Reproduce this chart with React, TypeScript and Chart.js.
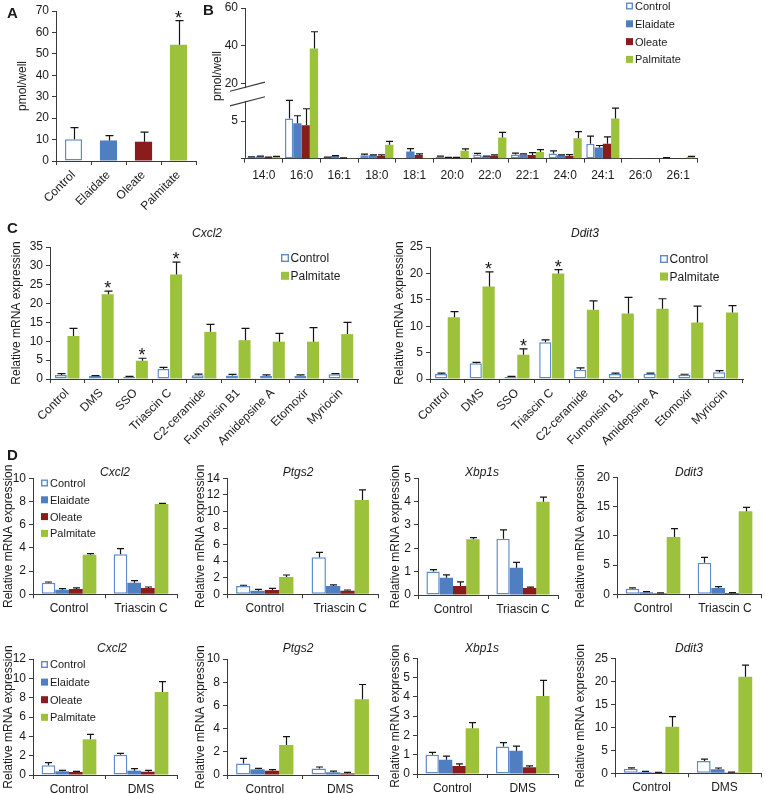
import React, { useEffect, useRef } from 'react';
import { Chart, registerables, LinearScale } from 'chart.js';

Chart.register(...registerables);

const FONT = '"Liberation Sans", Arial, Helvetica, sans-serif';
Chart.defaults.font.family = FONT;
Chart.defaults.font.size = 12;
Chart.defaults.color = '#1e1e1e';

const AXIS_COLOR = '#3a3a3a';
const TEXT_COLOR = '#1a1a1a';

// ---------------- data ----------------
const SERIES = ['Control', 'Elaidate', 'Oleate', 'Palmitate'];

// Panel A (pmol/well)
const A_CATEGORIES = ['Control', 'Elaidate', 'Oleate', 'Palmitate'];
const A_VALUES = [10.1, 9.6, 9.0, 54.2];
const A_ERRORS = [5.5, 2.2, 4.5, 11.3];
const A_STARS = [false, false, false, true];

// Panel B (pmol/well, broken axis)
const B_CATEGORIES = ['14:0', '16:0', '16:1', '18:0', '18:1', '20:0', '22:0', '22:1', '24:0', '24:1', '26:0', '26:1'];
const B_CONTROL = [0.2, 5.35, 0.15, 0.45, 0.1, 0.25, 0.55, 0.55, 0.7, 2.0, 0.08, 0.12];
const B_CONTROL_ERR = [0.05, 2.4, 0.05, 0.15, 0, 0.1, 0.15, 0.2, 0.35, 1.0, 0, 0.03];
const B_ELAIDATE = [0.3, 4.7, 0.35, 0.45, 0.95, 0.15, 0.3, 0.55, 0.45, 1.5, 0.02, 0.05];
const B_ELAIDATE_ERR = [0.05, 1.0, 0.05, 0.05, 0.4, 0.03, 0.05, 0.1, 0.05, 0.25, 0, 0];
const B_OLEATE = [0.15, 4.43, 0.1, 0.35, 0.5, 0.15, 0.4, 0.5, 0.35, 2.0, 0.02, 0.05];
const B_OLEATE_ERR = [0.05, 2.2, 0.02, 0.15, 0.15, 0.03, 0.1, 0.3, 0.2, 0.9, 0, 0];
const B_PALMITATE = [0.25, 38.5, 0.08, 1.85, 0.1, 1.05, 2.8, 0.9, 2.7, 5.35, 0.05, 0.25];
const B_PALMITATE_ERR = [0.05, 8.9, 0, 0.45, 0, 0.25, 0.7, 0.3, 0.9, 1.35, 0, 0.05];
const B_Y_TICKS = [0, 5, 20, 40, 60];
const B_BREAK_LOW = 8.5;
const B_BREAK_HIGH = 20;

// Panel C
const C_CATEGORIES = ['Control', 'DMS', 'SSO', 'Triascin C', 'C2-ceramide', 'Fumonisin B1', 'Amidepsine A', 'Etomoxir', 'Myriocin'];
const C_STARS = [false, true, true, true, false, false, false, false, false];
const C_CXCL2_CONTROL = [1.05, 0.8, 0.6, 2.65, 1.0, 0.9, 0.8, 0.85, 1.25];
const C_CXCL2_CONTROL_ERR = [0.35, 0.1, 0.1, 0.45, 0.3, 0.3, 0.3, 0.25, 0.2];
const C_CXCL2_PALMITATE = [11.4, 22.5, 4.85, 27.7, 12.5, 10.3, 9.9, 9.9, 11.9];
const C_CXCL2_PALMITATE_ERR = [2.0, 0.8, 0.65, 3.3, 2.0, 3.1, 2.2, 3.7, 3.1];
const C_DDIT3_CONTROL = [0.95, 2.97, 0.4, 6.94, 1.77, 0.95, 1.0, 0.8, 1.3];
const C_DDIT3_CONTROL_ERR = [0.15, 0.18, 0.1, 0.46, 0.33, 0.15, 0.1, 0.1, 0.3];
const C_DDIT3_PALMITATE = [11.7, 17.5, 4.6, 20.0, 13.1, 12.4, 13.3, 10.7, 12.6];
const C_DDIT3_PALMITATE_ERR = [1.05, 2.8, 1.1, 0.7, 1.7, 3.05, 1.9, 3.1, 1.3];

// Panel D, top row (Control vs Triascin C); rows = Control, Elaidate, Oleate, Palmitate
const D_TC_GROUPS = ['Control', 'Triascin C'];
const TC_CXCL2 = [[1.0, 3.45], [0.4, 1.0], [0.46, 0.55], [3.4, 7.79]];
const TC_CXCL2_ERR = [[0.06, 0.49], [0.09, 0.18], [0.09, 0.08], [0.1, 0.05]];
const TC_PTGS2 = [[1.0, 4.47], [0.44, 1.0], [0.52, 0.44], [2.09, 11.38]];
const TC_PTGS2_ERR = [[0.09, 0.6], [0.16, 0.13], [0.2, 0.08], [0.24, 1.22]];
const TC_XBP1S = [[1.01, 2.41], [0.74, 1.17], [0.39, 0.3], [2.39, 3.99]];
const TC_XBP1S_ERR = [[0.08, 0.38], [0.12, 0.23], [0.17, 0.04], [0.07, 0.2]];
const TC_DDIT3 = [[0.97, 5.43], [0.34, 1.09], [0.17, 0.23], [9.83, 14.23]];
const TC_DDIT3_ERR = [[0.12, 0.91], [0.12, 0.22], [0.06, 0.06], [1.43, 0.68]];

// Panel D, bottom row (Control vs DMS)
const D_DMS_GROUPS = ['Control', 'DMS'];
const DMS_CXCL2 = [[1.0, 2.1], [0.38, 0.45], [0.31, 0.34], [3.69, 8.59]];
const DMS_CXCL2_ERR = [[0.28, 0.14], [0.1, 0.21], [0.07, 0.14], [0.51, 1.07]];
const DMS_PTGS2 = [[1.0, 0.57], [0.49, 0.23], [0.37, 0.14], [2.59, 6.52]];
const DMS_PTGS2_ERR = [[0.44, 0.12], [0.08, 0.11], [0.09, 0.09], [0.71, 1.28]];
const DMS_XBP1S = [[1.0, 1.42], [0.74, 1.21], [0.42, 0.35], [2.37, 4.05]];
const DMS_XBP1S_ERR = [[0.12, 0.21], [0.19, 0.24], [0.1, 0.07], [0.29, 0.81]];
const DMS_DDIT3 = [[1.0, 2.7], [0.3, 0.9], [0.15, 0.2], [10.1, 21.0]];
const DMS_DDIT3_ERR = [[0.2, 0.4], [0.1, 0.25], [0.05, 0.05], [2.2, 2.5]];

// ---------------- styles ----------------
const STYLE: Record<string, any> = {
  Control: { backgroundColor: '#ffffff', borderColor: '#5f8bcb', borderWidth: 1.5 },
  Elaidate: { backgroundColor: '#4f7fc1', borderColor: '#4f7fc1', borderWidth: 0 },
  Oleate: { backgroundColor: '#8a1c1c', borderColor: '#8a1c1c', borderWidth: 0 },
  Palmitate: { backgroundColor: '#9cc23c', borderColor: '#9cc23c', borderWidth: 0 },
};

function bar(label: string, data: number[], errors: number[], stars?: boolean[]) {
  return { label, data, errors, stars, borderSkipped: false, ...STYLE[label] };
}

// ---------------- broken axis scale ----------------
function brokenMap(v: number) {
  if (v <= B_BREAK_LOW) return v;
  if (v >= B_BREAK_HIGH) return 10 + (v - B_BREAK_HIGH) / 4;
  return B_BREAK_LOW + ((v - B_BREAK_LOW) * (10 - B_BREAK_LOW)) / (B_BREAK_HIGH - B_BREAK_LOW);
}
function brokenInverse(d: number) {
  if (d <= B_BREAK_LOW) return d;
  if (d >= 10) return B_BREAK_HIGH + (d - 10) * 4;
  return B_BREAK_LOW + ((d - B_BREAK_LOW) * (B_BREAK_HIGH - B_BREAK_LOW)) / (10 - B_BREAK_LOW);
}
class BrokenLinearScale extends LinearScale {
  static id = 'brokenLinear';
  static defaults = {};
  getPixelForValue(value: any) {
    if (value === null || value === undefined || isNaN(value)) return NaN;
    const lo = brokenMap(this.min);
    const hi = brokenMap(this.max);
    return this.getPixelForDecimal((brokenMap(value) - lo) / (hi - lo));
  }
  getValueForPixel(pixel: number) {
    const lo = brokenMap(this.min);
    const hi = brokenMap(this.max);
    return brokenInverse(lo + this.getDecimalForPixel(pixel) * (hi - lo));
  }
}
Chart.register(BrokenLinearScale as any);

// ---------------- plugins ----------------
function errorBarsPlugin(spec: any) {
  return {
    id: 'errorBars',
    afterDatasetsDraw(chart: any) {
      const ctx = chart.ctx;
      const ys = chart.scales.y;
      ctx.save();
      chart.data.datasets.forEach((ds: any, i: number) => {
        const meta = chart.getDatasetMeta(i);
        meta.data.forEach((el: any, j: number) => {
          const v = ds.data[j];
          const err = ds.errors ? ds.errors[j] : 0;
          const x = Math.round(el.x) + 0.5;
          let topY = el.y;
          if (err && err > 0) {
            topY = ys.getPixelForValue(v + err);
            ctx.strokeStyle = '#151515';
            ctx.lineWidth = 1.2;
            ctx.beginPath();
            ctx.moveTo(x, el.y);
            ctx.lineTo(x, topY);
            ctx.moveTo(x - spec.cap, topY);
            ctx.lineTo(x + spec.cap, topY);
            ctx.stroke();
          }
          if (ds.stars && ds.stars[j]) {
            ctx.font = `18px ${FONT}`;
            ctx.fillStyle = '#151515';
            ctx.textAlign = 'center';
            ctx.textBaseline = 'alphabetic';
            ctx.fillText('*', el.x, topY - 7.5 + 0.58 * 18);
          }
        });
      });
      ctx.restore();
    },
  };
}

function textsPlugin(spec: any) {
  return {
    id: 'texts',
    afterDraw(chart: any) {
      const ctx = chart.ctx;
      ctx.save();
      (spec.texts || []).forEach((t: any) => {
        ctx.font = `${t.italic ? 'italic ' : ''}${t.bold ? 'bold ' : ''}${t.size}px ${FONT}`;
        ctx.fillStyle = TEXT_COLOR;
        ctx.textAlign = t.align || 'center';
        if (t.vertical) {
          ctx.save();
          ctx.translate(t.x - spec.rect.left, t.y - spec.rect.top);
          ctx.rotate(-Math.PI / 2);
          ctx.textBaseline = 'middle';
          ctx.fillText(t.text, 0, 0);
          ctx.restore();
        } else {
          ctx.textBaseline = 'alphabetic';
          ctx.fillText(t.text, t.x - spec.rect.left, t.y - spec.rect.top + 0.36 * t.size);
        }
      });
      ctx.restore();
    },
  };
}

function legendPlugin(spec: any) {
  return {
    id: 'boxLegend',
    afterDraw(chart: any) {
      const lg = spec.legend;
      if (!lg) return;
      const ctx = chart.ctx;
      ctx.save();
      ctx.font = `${lg.fontSize}px ${FONT}`;
      ctx.textBaseline = 'alphabetic';
      ctx.textAlign = 'left';
      lg.items.forEach((name: string, i: number) => {
        const st = STYLE[name];
        const cy = lg.y + i * lg.dy - spec.rect.top;
        const bx = lg.x - spec.rect.left;
        const s = lg.box;
        if (st.borderWidth > 0) {
          ctx.fillStyle = '#ffffff';
          ctx.fillRect(bx, cy - s / 2, s, s);
          ctx.strokeStyle = st.borderColor;
          ctx.lineWidth = 1.4;
          ctx.strokeRect(bx + 0.7, cy - s / 2 + 0.7, s - 1.4, s - 1.4);
        } else {
          ctx.fillStyle = st.backgroundColor;
          ctx.fillRect(bx, cy - s / 2, s, s);
        }
        ctx.fillStyle = TEXT_COLOR;
        ctx.fillText(name, bx + s + lg.gap, cy + 0.36 * lg.fontSize);
      });
      ctx.restore();
    },
  };
}

function axisBreakPlugin() {
  return {
    id: 'axisBreak',
    afterDraw(chart: any) {
      const ys = chart.scales.y;
      const ctx = chart.ctx;
      const ax = chart.chartArea.left;
      const mid = ys.getPixelForValue(B_BREAK_LOW);
      const slope = -0.26;
      const gap = 7.3;
      const yAt = (c: number, x: number) => c + slope * (x - ax);
      ctx.save();
      ctx.fillStyle = '#ffffff';
      ctx.beginPath();
      ctx.moveTo(ax - 2, yAt(mid - gap, ax - 2) + 1);
      ctx.lineTo(ax + 2, yAt(mid - gap, ax + 2) + 1);
      ctx.lineTo(ax + 2, yAt(mid + gap, ax + 2) - 1);
      ctx.lineTo(ax - 2, yAt(mid + gap, ax - 2) - 1);
      ctx.closePath();
      ctx.fill();
      ctx.strokeStyle = AXIS_COLOR;
      ctx.lineWidth = 1.2;
      [mid - gap, mid + gap].forEach((c) => {
        const x0 = ax - 15;
        const x1 = ax + 20;
        ctx.beginPath();
        ctx.moveTo(x0, yAt(c, x0));
        ctx.lineTo(x1, yAt(c, x1));
        ctx.stroke();
      });
      ctx.restore();
    },
  };
}

// ---------------- config ----------------
function makeConfig(spec: any) {
  const { rect, axis } = spec;
  const yWidth = axis.left - rect.left;
  const padTop = axis.top - rect.top;
  const padRight = rect.left + rect.width - axis.right;
  const xHeight = rect.top + rect.height - axis.bottom;

  const yScale: any = {
    type: spec.yType || 'linear',
    min: 0,
    max: spec.yMax,
    grid: { drawOnChartArea: false, drawTicks: true, tickLength: 4, color: AXIS_COLOR, lineWidth: 1 },
    border: { display: true, color: AXIS_COLOR, width: 1 },
    ticks: {
      stepSize: spec.yStep,
      autoSkip: false,
      padding: 3,
      color: TEXT_COLOR,
      font: { size: 12 },
      callback: (v: any) => (spec.hideZero && v === 0 ? '' : String(v)),
    },
    title: {
      display: !spec.manualYTitle,
      text: spec.yTitle,
      color: TEXT_COLOR,
      font: { size: 12 },
      padding: { top: spec.yTitleX - rect.left - 7.2, bottom: 0 },
    },
    afterFit: (s: any) => {
      s.width = yWidth;
      s.paddingTop = 0;
      s.paddingBottom = 0;
    },
  };
  if (spec.yTicks) {
    yScale.afterBuildTicks = (s: any) => {
      s.ticks = spec.yTicks.map((v: number) => ({ value: v }));
    };
  }

  const plugins: any[] = [errorBarsPlugin(spec), textsPlugin(spec), legendPlugin(spec)];
  if (spec.axisBreak) plugins.push(axisBreakPlugin());

  return {
    type: 'bar',
    data: { labels: spec.labels, datasets: spec.datasets },
    options: {
      responsive: false,
      maintainAspectRatio: false,
      animation: false,
      devicePixelRatio: 1,
      layout: { padding: { top: padTop, right: padRight, left: 0, bottom: 0 } },
      datasets: { bar: { categoryPercentage: spec.catPct, barPercentage: spec.barPct } },
      plugins: { legend: { display: false }, tooltip: { enabled: false }, title: { display: false } },
      scales: {
        x: {
          type: 'category',
          offset: true,
          grid: { offset: true, drawOnChartArea: false, drawTicks: true, tickLength: 4, color: AXIS_COLOR, lineWidth: 1 },
          border: { display: true, color: AXIS_COLOR, width: 1 },
          ticks: {
            autoSkip: false,
            maxRotation: spec.rotate || 0,
            minRotation: spec.rotate || 0,
            padding: spec.xPad ?? 3,
            color: TEXT_COLOR,
            font: { size: 12 },
          },
          afterFit: (s: any) => {
            s.height = xHeight;
            s.paddingLeft = 0;
            s.paddingRight = 0;
          },
        },
        y: yScale,
      },
    },
    plugins,
  };
}

// ---------------- panel specs ----------------
const MRNA = 'Relative mRNA expression';

function dDatasets(values: number[][], errors: number[][]) {
  return SERIES.map((name, i) => bar(name, values[i], errors[i]));
}

function dSpec(key: string, rect: any, axis: any, labels: string[], values: number[][], errors: number[][], yMax: number, yStep: number, title: string, titleX: number, titleY: number, yTitleX: number, extra: any = {}) {
  return {
    key,
    rect,
    axis,
    labels,
    datasets: dDatasets(values, errors),
    yMax,
    yStep,
    yTitle: MRNA,
    yTitleX,
    catPct: 0.76,
    barPct: 1.0,
    cap: 3.5,
    texts: [{ text: title, x: titleX, y: titleY, size: 12, italic: true }, ...(extra.texts || [])],
    legend: extra.legend,
  };
}

const D_LEGEND_TOP = { x: 41, y: 483, dy: 16.8, box: 7, fontSize: 11, gap: 2, items: SERIES };
const D_LEGEND_BOTTOM = { x: 41, y: 664.5, dy: 17.6, box: 7, fontSize: 11, gap: 2, items: SERIES };

const SPECS: any[] = [
  {
    key: 'A',
    rect: { left: 0, top: 0, width: 200, height: 215 },
    axis: { left: 56, top: 11, right: 196, bottom: 161 },
    labels: A_CATEGORIES,
    datasets: [
      {
        label: 'A',
        data: A_VALUES,
        errors: A_ERRORS,
        stars: A_STARS,
        borderSkipped: false,
        backgroundColor: A_CATEGORIES.map((c) => STYLE[c].backgroundColor),
        borderColor: A_CATEGORIES.map((c) => STYLE[c].borderColor),
        borderWidth: A_CATEGORIES.map((c) => STYLE[c].borderWidth),
      },
    ],
    yMax: 70,
    yStep: 10,
    yTitle: 'pmol/well',
    yTitleX: 23,
    rotate: 45,
    catPct: 0.49,
    barPct: 1.0,
    cap: 4,
    texts: [{ text: 'A', x: 7, y: 13, size: 15, bold: true, align: 'left' }],
  },
  {
    key: 'B',
    rect: { left: 200, top: 0, width: 566, height: 215 },
    axis: { left: 245, top: 8, right: 697, bottom: 158.7 },
    labels: B_CATEGORIES,
    datasets: [
      bar('Control', B_CONTROL, B_CONTROL_ERR),
      bar('Elaidate', B_ELAIDATE, B_ELAIDATE_ERR),
      bar('Oleate', B_OLEATE, B_OLEATE_ERR),
      bar('Palmitate', B_PALMITATE, B_PALMITATE_ERR),
    ],
    yType: 'brokenLinear',
    yMax: 60,
    yTicks: B_Y_TICKS,
    hideZero: true,
    yTitle: 'pmol/well',
    yTitleX: 218,
    manualYTitle: true,
    xPad: 6,
    catPct: 0.88,
    barPct: 1.0,
    cap: 3.5,
    axisBreak: true,
    texts: [
      { text: 'B', x: 203, y: 10, size: 15, bold: true, align: 'left' },
      { text: 'pmol/well', x: 218, y: 76, size: 12, vertical: true },
    ],
    legend: { x: 626, y: 6, dy: 17.8, box: 7, fontSize: 11, gap: 2, items: SERIES },
  },
  {
    key: 'C1',
    rect: { left: 0, top: 215, width: 380, height: 245 },
    axis: { left: 50, top: 247, right: 358, bottom: 379 },
    labels: C_CATEGORIES,
    datasets: [
      bar('Control', C_CXCL2_CONTROL, C_CXCL2_CONTROL_ERR),
      bar('Palmitate', C_CXCL2_PALMITATE, C_CXCL2_PALMITATE_ERR, C_STARS),
    ],
    yMax: 35,
    yStep: 5,
    yTitle: MRNA,
    yTitleX: 17,
    rotate: 45,
    catPct: 0.74,
    barPct: 0.95,
    cap: 4,
    texts: [
      { text: 'C', x: 7, y: 228, size: 15, bold: true, align: 'left' },
      { text: 'Cxcl2', x: 207, y: 233, size: 12, italic: true },
    ],
    legend: { x: 281, y: 258, dy: 17.8, box: 8, fontSize: 12, gap: 1.5, items: ['Control', 'Palmitate'] },
  },
  {
    key: 'C2',
    rect: { left: 380, top: 215, width: 386, height: 245 },
    axis: { left: 430, top: 247, right: 743, bottom: 379 },
    labels: C_CATEGORIES,
    datasets: [
      bar('Control', C_DDIT3_CONTROL, C_DDIT3_CONTROL_ERR),
      bar('Palmitate', C_DDIT3_PALMITATE, C_DDIT3_PALMITATE_ERR, C_STARS),
    ],
    yMax: 25,
    yStep: 5,
    yTitle: MRNA,
    yTitleX: 400,
    rotate: 45,
    catPct: 0.74,
    barPct: 0.95,
    cap: 4,
    texts: [{ text: 'Ddit3', x: 585, y: 233, size: 12, italic: true }],
    legend: { x: 660, y: 259, dy: 17.5, box: 8, fontSize: 12, gap: 1.5, items: ['Control', 'Palmitate'] },
  },
  dSpec('D1', { left: 0, top: 450, width: 190, height: 170 }, { left: 33, top: 478.3, right: 177, bottom: 594.3 }, D_TC_GROUPS, TC_CXCL2, TC_CXCL2_ERR, 10, 2, 'Cxcl2', 115, 472, 9, {
    texts: [{ text: 'D', x: 7, y: 455, size: 15, bold: true, align: 'left' }],
    legend: D_LEGEND_TOP,
  }),
  dSpec('D2', { left: 190, top: 450, width: 190, height: 170 }, { left: 227, top: 478.3, right: 378, bottom: 594.3 }, D_TC_GROUPS, TC_PTGS2, TC_PTGS2_ERR, 14, 2, 'Ptgs2', 298, 472, 201),
  dSpec('D3', { left: 380, top: 450, width: 190, height: 170 }, { left: 418, top: 478.3, right: 558, bottom: 595 }, D_TC_GROUPS, TC_XBP1S, TC_XBP1S_ERR, 5, 1, 'Xbp1s', 482, 472, 396),
  dSpec('D4', { left: 570, top: 450, width: 196, height: 170 }, { left: 617, top: 477.7, right: 761, bottom: 594.3 }, D_TC_GROUPS, TC_DDIT3, TC_DDIT3_ERR, 20, 5, 'Ddit3', 689, 472, 581),
  dSpec('D5', { left: 0, top: 630, width: 190, height: 164 }, { left: 33, top: 659, right: 177, bottom: 775 }, D_DMS_GROUPS, DMS_CXCL2, DMS_CXCL2_ERR, 12, 2, 'Cxcl2', 112, 648, 9, {
    legend: D_LEGEND_BOTTOM,
  }),
  dSpec('D6', { left: 190, top: 630, width: 190, height: 164 }, { left: 227, top: 659, right: 378, bottom: 775 }, D_DMS_GROUPS, DMS_PTGS2, DMS_PTGS2_ERR, 10, 2, 'Ptgs2', 298, 648, 201),
  dSpec('D7', { left: 380, top: 630, width: 190, height: 164 }, { left: 417, top: 658.3, right: 558, bottom: 774 }, D_DMS_GROUPS, DMS_XBP1S, DMS_XBP1S_ERR, 6, 1, 'Xbp1s', 482, 648, 396),
  dSpec('D8', { left: 570, top: 630, width: 196, height: 164 }, { left: 615, top: 658.3, right: 761, bottom: 773.3 }, D_DMS_GROUPS, DMS_DDIT3, DMS_DDIT3_ERR, 25, 5, 'Ddit3', 689, 648, 581),
];

function BarPanel({ spec }: { spec: any }) {
  const ref = useRef<HTMLCanvasElement | null>(null);
  useEffect(() => {
    if (!ref.current) return;
    const chart = new Chart(ref.current, makeConfig(spec) as any);
    return () => chart.destroy();
  }, [spec]);
  const { rect } = spec;
  return (
    <canvas
      ref={ref}
      width={rect.width}
      height={rect.height}
      style={{ position: 'absolute', left: rect.left, top: rect.top, width: rect.width, height: rect.height }}
    />
  );
}

export default function App() {
  return (
    <div style={{ position: 'absolute', left: 0, top: 0, width: 766, height: 794, background: '#ffffff', overflow: 'hidden' }}>
      {SPECS.map((s) => (
        <BarPanel key={s.key} spec={s} />
      ))}
    </div>
  );
}
